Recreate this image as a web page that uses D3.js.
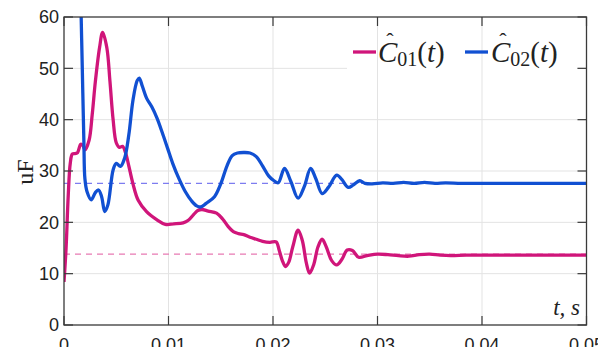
<!DOCTYPE html>
<html><head><meta charset="utf-8">
<script src="https://cdn.jsdelivr.net/npm/d3@7"></script>
<style>html,body{margin:0;padding:0;background:#fff;}svg{display:block;}</style>
</head><body>
<svg id="chart" width="598" height="347"></svg>
<script>
// ---- data ----
const c01T = [0.0000,0.0002,0.0004,0.0006,0.0008,0.0011,0.0013,0.0016,0.0018,0.0020,0.0024,0.0027,0.0030,0.0034,0.0037,0.0041,0.0044,0.0047,0.0050,0.0053,0.0056,0.0059,0.0062,0.0066,0.0071,0.0079,0.0089,0.0097,0.0105,0.0114,0.0119,0.0124,0.0128,0.0132,0.0138,0.0146,0.0152,0.0157,0.0162,0.0167,0.0172,0.0178,0.0184,0.0190,0.0197,0.0203,0.0206,0.0209,0.0212,0.0215,0.0219,0.0224,0.0228,0.0232,0.0235,0.0239,0.0243,0.0247,0.0251,0.0256,0.0261,0.0266,0.0271,0.0276,0.0282,0.0290,0.0300,0.0310,0.0320,0.0330,0.0340,0.0350,0.0360,0.0370,0.0385,0.0400,0.0450,0.0500];
const c01V = [8.4,15,25,31.5,33.3,33.4,33.6,35.2,35,34.1,36,41,47.4,54,57,54,47.4,40,35.5,34.6,34.8,33.5,31,27.5,24.3,22.1,20.5,19.6,19.7,19.9,20.4,21.5,22.3,22.5,22.2,21.8,20.6,19.2,18.2,17.8,17.6,17.1,16.7,16.3,16.1,16.2,14.5,12.5,11.4,12.2,15.3,18.5,16.5,12,10.1,11.8,15.2,16.7,15.2,12.6,11.7,12.8,14.6,14.5,13.2,13.5,13.8,13.7,13.5,13.4,13.7,13.8,13.6,13.5,13.6,13.6,13.6,13.6];

const c02T = [0.0016,0.00175,0.0019,0.0020,0.0022,0.0026,0.0030,0.0033,0.0036,0.0039,0.0042,0.0047,0.0050,0.0054,0.0058,0.0062,0.0066,0.0070,0.0072,0.0075,0.0079,0.0084,0.0089,0.0094,0.0099,0.0104,0.0110,0.0116,0.0122,0.0127,0.0131,0.0136,0.0144,0.0150,0.0156,0.0161,0.0166,0.0172,0.0178,0.0184,0.0190,0.0196,0.0201,0.0205,0.0211,0.0217,0.0224,0.0230,0.0236,0.0241,0.0247,0.0253,0.0261,0.0266,0.0272,0.0277,0.0283,0.0288,0.0295,0.0305,0.0315,0.0325,0.0335,0.0345,0.0355,0.0365,0.0380,0.0400,0.0450,0.0500];
const c02V = [64,50,36,28.5,26,24.4,25.8,26.3,25,22.1,23.4,30.2,31.5,30.9,32.5,37,43.8,47.6,48.1,46.5,44.2,42.5,40.3,37.5,34.5,31.5,28.5,26,24.2,23.2,23,23.7,25,27.5,31,33,33.5,33.6,33.5,32.8,31,29,28.1,27.7,30.5,28,24.7,27,30.5,28.5,25.6,26.8,29.2,28.3,26.8,27.3,28.1,27.6,27.5,27.7,27.6,27.8,27.6,27.8,27.6,27.7,27.6,27.6,27.6,27.6];

const ref01 = 13.8;
const ref02 = 27.6;
const xTicks = [0,0.01,0.02,0.03,0.04,0.05];
const xTickLabels = ["0","0.01","0.02","0.03","0.04","0.05"];
const yTicks = [0,10,20,30,40,50,60];
const yLabel = "uF";
const xLabel = "t, s";

// ---- layout ----
const L = 64, R = 586.5, T = 17, B = 325;
const colMag = "#d0157a", colBlue = "#1150d2";
const colMagDash = "#e77ab3", colBlueDash = "#7d7cf0";

const svg = d3.select("#chart");
const x = d3.scaleLinear().domain([0,0.05]).range([L,R]);
const y = d3.scaleLinear().domain([0,60]).range([B,T]);

svg.append("defs").append("clipPath").attr("id","clip")
  .append("rect").attr("x",L).attr("y",T).attr("width",R-L).attr("height",B-T);

// horizontal grid
svg.append("g").selectAll("line").data(yTicks.slice(1,-1)).join("line")
  .attr("x1",L).attr("x2",R).attr("y1",d=>y(d)).attr("y2",d=>y(d))
  .attr("stroke","#e3e3e3").attr("stroke-width",1);

// legend background (drawn over horizontal grid)
svg.append("rect").attr("x",347).attr("y",24).attr("width",230).attr("height",46)
  .attr("fill","#fff");

// vertical grid
svg.append("g").selectAll("line").data(xTicks.slice(1,-1)).join("line")
  .attr("x1",d=>x(d)).attr("x2",d=>x(d)).attr("y1",T).attr("y2",B)
  .attr("stroke","#e3e3e3").attr("stroke-width",1);

// reference dashed lines
const gRef = svg.append("g").attr("clip-path","url(#clip)");
gRef.append("line").attr("x1",L).attr("x2",R).attr("y1",y(ref02)).attr("y2",y(ref02))
  .attr("stroke",colBlueDash).attr("stroke-width",1.3).attr("stroke-dasharray","6,5");
gRef.append("line").attr("x1",L).attr("x2",R).attr("y1",y(ref01)).attr("y2",y(ref01))
  .attr("stroke",colMagDash).attr("stroke-width",1.3).attr("stroke-dasharray","6,5");

// curves
const line = d3.line().x(d=>x(d[0])).y(d=>y(d[1])).curve(d3.curveCatmullRom.alpha(0.5));
const gLines = svg.append("g").attr("clip-path","url(#clip)");
gLines.append("path").attr("d",line(d3.zip(c01T,c01V)))
  .attr("fill","none").attr("stroke",colMag).attr("stroke-width",3.3).attr("stroke-linejoin","round");
gLines.append("path").attr("d",line(d3.zip(c02T,c02V)))
  .attr("fill","none").attr("stroke",colBlue).attr("stroke-width",3.3).attr("stroke-linejoin","round");

// axes (box, inward ticks)
const axCol = "#3a3a3a";
const tl = 9;
svg.append("rect").attr("x",L).attr("y",T).attr("width",R-L).attr("height",B-T)
  .attr("fill","none").attr("stroke",axCol).attr("stroke-width",1.3);
const gAx = svg.append("g").attr("stroke",axCol).attr("stroke-width",1.2);
xTicks.forEach(d=>{
  gAx.append("line").attr("x1",x(d)).attr("x2",x(d)).attr("y1",B).attr("y2",B-tl);
  gAx.append("line").attr("x1",x(d)).attr("x2",x(d)).attr("y1",T).attr("y2",T+tl);
});
yTicks.forEach(d=>{
  gAx.append("line").attr("x1",L).attr("x2",L+tl).attr("y1",y(d)).attr("y2",y(d));
  gAx.append("line").attr("x1",R).attr("x2",R-tl).attr("y1",y(d)).attr("y2",y(d));
});

// tick labels
const font = "'Liberation Sans', Arial, sans-serif";
svg.append("g").selectAll("text").data(yTicks).join("text")
  .attr("x",L-5).attr("y",d=>y(d)).attr("dy","0.36em")
  .attr("text-anchor","end").attr("font-family",font).attr("font-size",18).attr("fill","#222")
  .text(d=>d);
svg.append("g").selectAll("text").data(xTicks).join("text")
  .attr("x",d=>x(d)).attr("y",351)
  .attr("text-anchor","middle").attr("font-family",font).attr("font-size",18).attr("fill","#222")
  .text((d,i)=>xTickLabels[i]);

// axis labels
const serif = "'Liberation Serif', 'Times New Roman', serif";
svg.append("text").attr("transform","translate(33,172) rotate(-90)")
  .attr("text-anchor","middle").attr("font-family",serif).attr("font-size",24).attr("fill","#222")
  .text(yLabel);
svg.append("text").attr("x",580).attr("y",315).attr("text-anchor","end")
  .attr("font-family",serif).attr("font-style","italic").attr("font-size",23).attr("fill","#222")
  .text(xLabel);

// legend
const legend = [{lbl:"01", col:colMag, x0:353, tx:378},{lbl:"02", col:colBlue, x0:465, tx:491}];
legend.forEach(e=>{
  svg.append("line").attr("x1",e.x0).attr("x2",e.x0+23).attr("y1",52).attr("y2",52)
    .attr("stroke",e.col).attr("stroke-width",3.3);
  const t = svg.append("text").attr("x",e.tx).attr("y",62)
    .attr("font-family",serif).attr("font-size",29).attr("fill","#222");
  t.append("tspan").attr("font-style","italic").text("C");
  t.append("tspan").attr("font-size",20).attr("dy",4).text(e.lbl);
  t.append("tspan").attr("dy",-4).text("(");
  t.append("tspan").attr("font-style","italic").text("t");
  t.append("tspan").text(")");
  svg.append("text").attr("x",e.tx+12).attr("y",48).attr("text-anchor","middle")
    .attr("font-family",serif).attr("font-size",22).attr("fill","#222").text("\u02C6");
});
</script>
</body></html>
